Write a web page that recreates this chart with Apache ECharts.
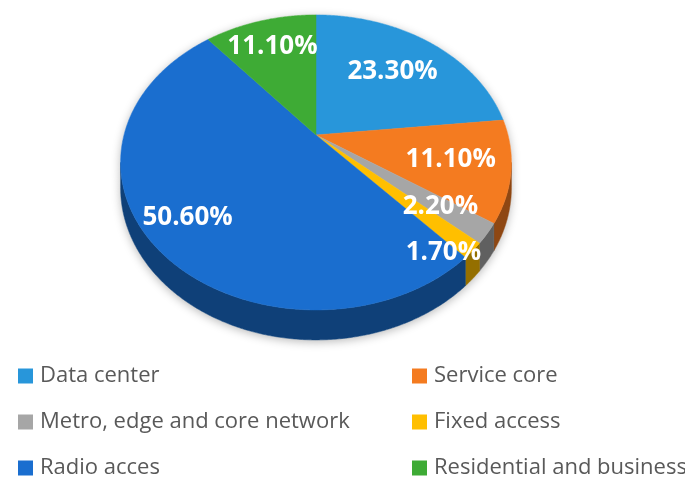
<!DOCTYPE html>
<html>
<head>
<meta charset="utf-8">
<script src="https://cdn.jsdelivr.net/npm/echarts@6/dist/echarts.min.js"></script>
<style>
  html, body { margin: 0; padding: 0; background: #ffffff; }
  #chart { width: 685px; height: 479px; }
</style>
</head>
<body>
<div id="chart"></div>
<script>
// Segment names and their shares (percent), clockwise from 12 o'clock
const categories = [
  'Data center',
  'Service core',
  'Metro, edge and core network',
  'Fixed access',
  'Radio acces',
  'Residential and business'
];
const shares = [23.3, 11.1, 2.2, 1.7, 50.6, 11.1];

// Legend columns (row order top to bottom)
const legendLeft = ['Data center', 'Metro, edge and core network', 'Radio acces'];
const legendRight = ['Service core', 'Fixed access', 'Residential and business'];

// ---- styling ----
const palette = ['#2896da', '#f47b20', '#a6a6a6', '#ffbf00', '#1a6ecf', '#3eab35'];
// label distance from the centre (fraction of radius) and angular nudge (degrees)
const labelRadius = [0.65, 0.70, 0.75, 0.92, 0.80, 0.75];
const labelNudge = [0, 0, 0, 6.5, 0, 0];

// Tilted disc geometry (perspective view of a flat cylinder)
const CX = 316, CY = 135;     // projected centre of the disc
const A = 192, B = 142.4;     // horizontal / depth radii
const K = 0.186;              // perspective strength
const DEPTH = 24.4;           // thickness of the disc

const total = shares.reduce((s, v) => s + v, 0);
const starts = [];
shares.reduce((acc, v) => { starts.push(acc); return acc + v; }, 0);

function project(r, t, drop) {
  const u = r * Math.sin(t), v = -r * Math.cos(t);
  const w = 1 - K * v;
  return [CX + A * u / w, CY + B * v / w + (drop ? DEPTH / w : 0)];
}
function arc(t0, t1, drop) {
  const pts = [];
  const n = Math.max(2, Math.ceil((t1 - t0) / (Math.PI / 360)));
  for (let i = 0; i <= n; i++) pts.push(project(1, t0 + (t1 - t0) * i / n, drop));
  return pts;
}
function shade(hex, f) {
  const n = parseInt(hex.slice(1), 16);
  const r = Math.round(((n >> 16) & 255) * f), g = Math.round(((n >> 8) & 255) * f), b = Math.round((n & 255) * f);
  return 'rgb(' + r + ',' + g + ',' + b + ')';
}
function sliceAngles(i, value) {
  const t0 = 2 * Math.PI * starts[i] / total;
  return [t0, t0 + 2 * Math.PI * value / total];
}

// visible front wall runs between the two silhouette tangent points
const FRONT0 = Math.acos(-K);
const FRONT1 = 2 * Math.PI - FRONT0;

function sliceSeries(i) {
  return {
    type: 'custom',
    name: categories[i],
    coordinateSystem: 'none',
    itemStyle: { color: palette[i] },
    data: [[shares[i]]],
    z: 2,
    renderItem: function (params, api) {
      const [t0, t1] = sliceAngles(i, api.value(0));
      const children = [];
      const s0 = Math.max(t0, FRONT0), s1 = Math.min(t1, FRONT1);
      if (s1 > s0) {
        const wall = arc(s0, s1, false).concat(arc(s0, s1, true).reverse());
        const dark = shade(palette[i], 0.58);
        children.push({
          type: 'polygon',
          shape: { points: wall },
          style: { fill: dark, stroke: dark, lineWidth: 0.5 }
        });
      }
      children.push({
        type: 'polygon',
        shape: { points: [[CX, CY]].concat(arc(t0, t1, false)) },
        style: { fill: palette[i], stroke: palette[i], lineWidth: 0.5 }
      });
      return { type: 'group', children: children };
    }
  };
}

// value labels, drawn above every slice
const labelSeries = {
  type: 'custom',
  name: 'labels',
  coordinateSystem: 'none',
  silent: true,
  z: 3,
  data: shares.map(v => [v]),
  renderItem: function (params, api) {
    const i = params.dataIndex;
    const value = api.value(0);
    const [t0, t1] = sliceAngles(i, value);
    const tm = (t0 + t1) / 2 + labelNudge[i] * Math.PI / 180;
    const p = project(labelRadius[i], tm, false);
    return {
      type: 'text',
      x: p[0], y: p[1],
      style: {
        text: value.toFixed(2) + '%',
        fill: '#ffffff',
        font: 'bold 26px "Open Sans", sans-serif',
        align: 'center',
        verticalAlign: 'middle'
      }
    };
  }
};

// soft shadow under the whole disc
const baseSeries = {
  type: 'custom',
  name: 'base',
  coordinateSystem: 'none',
  silent: true,
  z: 1,
  data: [[total]],
  renderItem: function () {
    const outline = arc(0, 2 * Math.PI, false);
    const wall = arc(FRONT0, FRONT1, true).concat(arc(FRONT0, FRONT1, false).reverse());
    const st = { fill: '#ffffff', shadowBlur: 10, shadowColor: 'rgba(0,0,0,0.28)', shadowOffsetY: 2 };
    return {
      type: 'group',
      children: [
        { type: 'polygon', shape: { points: outline }, style: st },
        { type: 'polygon', shape: { points: wall }, style: st }
      ]
    };
  }
};

const legendCommon = {
  orient: 'vertical',
  icon: 'rect',
  itemWidth: 15,
  itemHeight: 15,
  itemGap: 24,
  padding: 0,
  selectedMode: false,
  bottom: 0,
  textStyle: {
    fontFamily: '"Open Sans", sans-serif', fontSize: 22,
    color: '#595959', padding: [0, 0, 0, 2]
  }
};

const chart = echarts.init(document.getElementById('chart'), null, { renderer: 'canvas' });
chart.setOption({
  animation: false,
  backgroundColor: '#ffffff',
  color: palette,
  legend: [
    Object.assign({}, legendCommon, { left: 18, data: legendLeft }),
    Object.assign({}, legendCommon, { left: 412, data: legendRight })
  ],
  series: [baseSeries].concat(categories.map((c, i) => sliceSeries(i)), [labelSeries])
});
</script>
</body>
</html>
